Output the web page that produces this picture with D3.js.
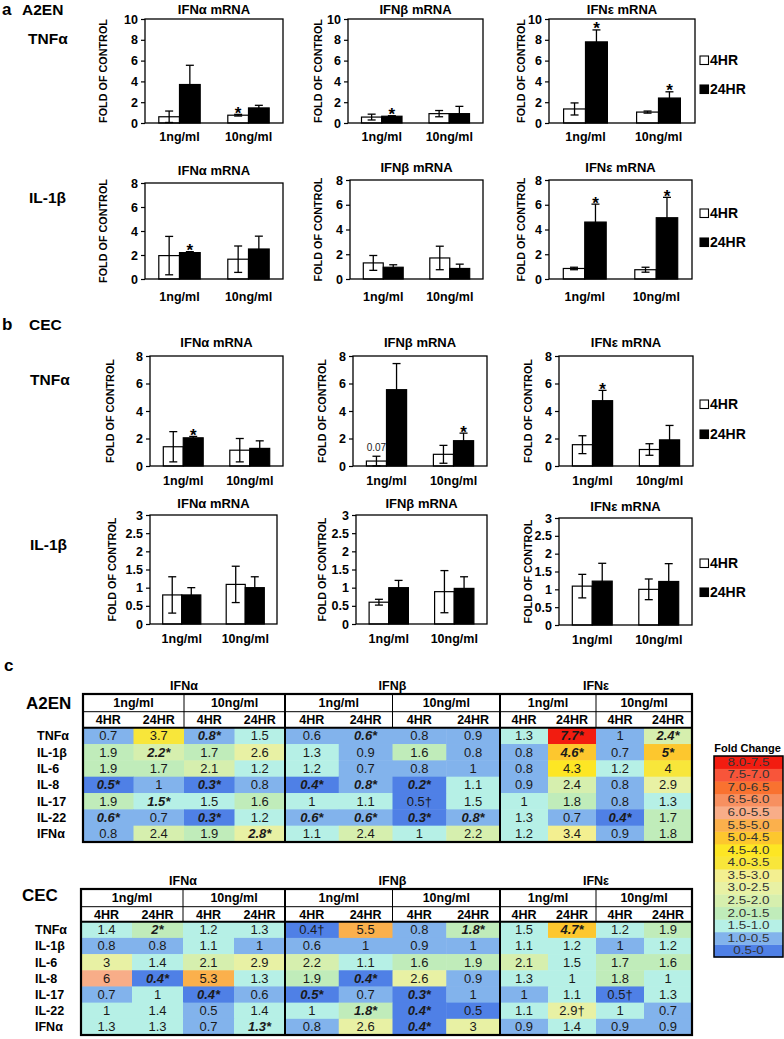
<!DOCTYPE html>
<html>
<head>
<meta charset="utf-8">
<script src="https://cdn.jsdelivr.net/npm/d3@7"></script>
<style>
  body { margin: 0; background: #fff; }
  svg { display: block; font-family: "Liberation Sans", Arial, sans-serif; }
</style>
</head>
<body>
<script>
const width = 784, height = 1039;

const ifns = ["IFNα", "IFNβ", "IFNε"];
const doses = ["1ng/ml", "10ng/ml"];
const times = ["4HR", "24HR"];
const cytokines = ["TNFα", "IL-1β", "IL-6", "IL-8", "IL-17", "IL-22", "IFNα"];

// bar charts: 12 values per row, ordered IFNα/IFNβ/IFNε x 1ng,10ng x 4HR,24HR
const a_tnf_mean = [0.6, 3.7, 0.75, 1.45, 0.57, 0.65, 0.9, 0.9, 1.35, 7.8, 1.05, 2.4];
const a_tnf_err  = [0.55, 1.85, 0.08, 0.25, 0.28, 0.05, 0.3, 0.7, 0.58, 1.15, 0.1, 0.6];
const a_tnf_star = [0, 0, 1, 0, 0, 1, 0, 0, 0, 1, 0, 1];

const a_il1_mean = [1.95, 2.2, 1.65, 2.5, 1.3, 0.95, 1.7, 0.85, 0.85, 4.6, 0.75, 4.95];
const a_il1_err  = [1.6, 0.08, 1.1, 1.07, 0.6, 0.2, 0.95, 0.35, 0.1, 1.45, 0.2, 1.65];
const a_il1_star = [0, 1, 0, 0, 0, 0, 0, 0, 0, 1, 0, 1];

const b_tnf_mean = [1.4, 2.05, 1.15, 1.28, 0.36, 5.55, 0.85, 1.84, 1.55, 4.75, 1.2, 1.9];
const b_tnf_err  = [1.1, 0.1, 0.85, 0.55, 0.35, 1.9, 0.65, 0.55, 0.65, 0.75, 0.42, 1.05];
const b_tnf_star = [0, 1, 0, 0, 0, 0, 0, 1, 0, 1, 0, 0];
const b_tnf_note = ["", "", "", "", "0.07", "", "", "", "", "", "", ""];

const b_il1_mean = [0.8, 0.8, 1.09, 1.0, 0.6, 1.0, 0.89, 0.98, 1.09, 1.23, 1.0, 1.22];
const b_il1_err  = [0.5, 0.2, 0.5, 0.3, 0.08, 0.2, 0.58, 0.32, 0.33, 0.5, 0.29, 0.5];
const b_il1_star = [0, 0, 0, 0, 0, 0, 0, 0, 0, 0, 0, 0];

// heat tables: rows = cytokines, 12 columns in the same order
const a2en_fold = [
  [0.7, 3.7, 0.8, 1.5, 0.6, 0.6, 0.8, 0.9, 1.3, 7.7, 1, 2.4],
  [1.9, 2.2, 1.7, 2.6, 1.3, 0.9, 1.6, 0.8, 0.8, 4.6, 0.7, 5],
  [1.9, 1.7, 2.1, 1.2, 1.2, 0.7, 0.8, 1, 0.8, 4.3, 1.2, 4],
  [0.5, 1, 0.3, 0.8, 0.4, 0.8, 0.2, 1.1, 0.9, 2.4, 0.8, 2.9],
  [1.9, 1.5, 1.5, 1.6, 1.02, 1.1, 0.5, 1.5, 1.02, 1.8, 0.8, 1.3],
  [0.6, 0.7, 0.3, 1.2, 0.6, 0.6, 0.3, 0.8, 1.3, 0.7, 0.4, 1.7],
  [0.8, 2.4, 1.9, 2.8, 1.1, 2.4, 1.02, 2.2, 1.2, 3.4, 0.9, 1.8]
];
const a2en_mark = [
  ["", "", "*", "", "", "*", "", "", "", "*", "", "*"],
  ["", "*", "", "", "", "", "", "", "", "*", "", "*"],
  ["", "", "", "", "", "", "", "", "", "", "", ""],
  ["*", "", "*", "", "*", "*", "*", "", "", "", "", ""],
  ["", "*", "", "", "", "", "†", "", "", "", "", ""],
  ["*", "", "*", "", "*", "*", "*", "*", "", "", "*", ""],
  ["", "", "", "*", "", "", "", "", "", "", "", ""]
];
const cec_fold = [
  [1.4, 2, 1.2, 1.3, 0.4, 5.5, 0.8, 1.8, 1.5, 4.7, 1.2, 1.9],
  [0.8, 0.8, 1.1, 1, 0.6, 1, 0.9, 1, 1.1, 1.2, 1, 1.2],
  [3, 1.4, 2.1, 2.9, 2.2, 1.1, 1.6, 1.9, 2.1, 1.5, 1.7, 1.6],
  [6, 0.4, 5.3, 1.3, 1.9, 0.4, 2.6, 0.9, 1.3, 1.02, 1.8, 1.02],
  [0.7, 1.02, 0.4, 0.6, 0.5, 0.7, 0.3, 1, 1, 1.1, 0.5, 1.3],
  [1.02, 1.4, 0.52, 1.4, 1.02, 1.8, 0.4, 0.5, 1.1, 2.9, 1.02, 0.7],
  [1.3, 1.3, 0.7, 1.3, 0.8, 2.6, 0.4, 3, 0.9, 1.4, 0.9, 0.9]
];
const cec_mark = [
  ["", "*", "", "", "†", "", "", "*", "", "*", "", ""],
  ["", "", "", "", "", "", "", "", "", "", "", ""],
  ["", "", "", "", "", "", "", "", "", "", "", ""],
  ["", "*", "", "", "", "*", "", "", "", "", "", ""],
  ["", "", "*", "", "*", "", "*", "", "", "", "†", ""],
  ["", "", "", "", "", "*", "*", "", "", "†", "", ""],
  ["", "", "", "*", "", "", "*", "", "", "", "", ""]
];

const foldBins = ["0.5-0", "1.0-0.5", "1.5-1.0", "2.0-1.5", "2.5-2.0", "3.0-2.5", "3.5-3.0", "4.0-3.5",
                  "4.5-4.0", "5.0-4.5", "5.5-5.0", "6.0-5.5", "6.5-6.0", "7.0-6.5", "7.5-7.0", "8.0-7.5"];
const foldColors = ["#4f80e6", "#82b3ec", "#b6f0e6", "#c0ecba", "#d6efae", "#e8f1a4", "#f3ef90", "#f8e63a",
                    "#fde624", "#fdc72e", "#fbb04c", "#f8ad88", "#f79060", "#f97230", "#f8553a", "#f21c10"];
const foldEdges = d3.range(0.5, 8, 0.5);

const color = d3.scaleThreshold()
  .domain(foldEdges.map(e => e + 1e-6))   // upper bound of each bin is inclusive
  .range(foldColors);

const svg = d3.select("body").append("svg")
  .attr("width", width).attr("height", height)
  .attr("viewBox", [0, 0, width, height]);

const fmt = d3.format(".1~f");

// widen text horizontally around its anchor point
function stretch(sel, k) {
  sel.each(function () {
    const t = d3.select(this);
    const x = +t.attr("x") || 0, y = +t.attr("y") || 0;
    t.attr("x", 0).attr("y", 0).attr("transform", `translate(${x},${y}) scale(${k},1)`);
  });
}

// ---------- bar charts ----------
function barChart(o) {
  const [x0, x1, y0, y1] = o.box;
  const g = svg.append("g");
  const x = d3.scaleBand().domain(doses).range([x0, x1]).paddingInner(0.4).paddingOuter(0.2);
  const xt = d3.scaleBand().domain(times).range([0, x.bandwidth()]);
  const y = d3.scaleLinear().domain([0, o.max]).range([y1, y0]);

  const rows = [];
  doses.forEach((d, i) => times.forEach((t, j) => {
    const k = o.ifn * 4 + i * 2 + j;
    rows.push({ dose: d, time: t, m: o.mean[k], e: o.err[k], s: o.star[k], n: o.note ? o.note[k] : "" });
  }));

  g.append("text").attr("x", (x0 + x1) / 2).attr("y", y0 - o.titleDy)
    .attr("text-anchor", "middle").attr("font-size", 13).attr("font-weight", "bold")
    .text(ifns[o.ifn] + " mRNA");

  const ya = d3.axisLeft(y)
    .tickValues(d3.range(0, o.max + o.step / 2, o.step))
    .tickFormat(d3.format("~g")).tickSize(4).tickPadding(3);
  const ag = g.append("g").attr("transform", `translate(${x0},0)`).call(ya);
  ag.select(".domain").remove();
  ag.selectAll("line").attr("stroke-width", 1.2);
  ag.selectAll("text").attr("font-size", 12.5).attr("font-weight", "bold")
    .attr("font-family", "Liberation Sans, Arial, sans-serif").attr("fill", "#000");

  g.append("text")
    .attr("transform", `translate(${o.ylabX},${(y0 + y1) / 2}) rotate(-90)`)
    .attr("text-anchor", "middle").attr("dy", "0.35em")
    .attr("font-size", 10.8).attr("font-weight", "bold")
    .text("FOLD OF CONTROL");

  g.selectAll(".bar").data(rows).join("rect")
    .attr("x", d => x(d.dose) + xt(d.time))
    .attr("y", d => y(d.m))
    .attr("width", xt.bandwidth())
    .attr("height", d => y(0) - y(d.m))
    .attr("fill", d => d.time === "4HR" ? "#fff" : "#000")
    .attr("stroke", "#000").attr("stroke-width", 1.2);

  const cx = d => x(d.dose) + xt(d.time) + xt.bandwidth() / 2;
  const lo = d => y(Math.max(0, d.m - d.e)), hi = d => y(d.m + d.e);
  const eb = g.selectAll(".err").data(rows).join("g").attr("stroke", "#000").attr("stroke-width", 1.3);
  eb.append("line").attr("x1", cx).attr("x2", cx).attr("y1", lo).attr("y2", hi);
  eb.append("line").attr("x1", d => cx(d) - 4).attr("x2", d => cx(d) + 4).attr("y1", hi).attr("y2", hi);
  eb.append("line").attr("x1", d => cx(d) - 4).attr("x2", d => cx(d) + 4).attr("y1", lo).attr("y2", lo);

  g.selectAll(".star").data(rows.filter(d => d.s)).join("text")
    .attr("x", cx).attr("y", d => hi(d) + 4.5)
    .attr("text-anchor", "middle").attr("font-size", 17).attr("font-weight", "bold")
    .text("*");

  g.selectAll(".note").data(rows.filter(d => d.n)).join("text")
    .attr("x", cx).attr("y", d => hi(d) - 5)
    .attr("text-anchor", "middle").attr("font-size", 10).attr("fill", "#222")
    .text(d => d.n);

  g.append("rect").attr("x", x0).attr("y", y0).attr("width", x1 - x0).attr("height", y1 - y0)
    .attr("fill", "none").attr("stroke", "#000").attr("stroke-width", 1.3);

  g.selectAll(".xl").data(doses).join("text")
    .attr("x", d => x(d) + x.bandwidth() / 2).attr("y", y1 + o.xDy)
    .attr("text-anchor", "middle").attr("font-size", 12.5).attr("font-weight", "bold")
    .text(d => d);
}

function legend(lx, ly) {
  const g = svg.append("g");
  times.forEach((t, i) => {
    g.append("rect").attr("x", lx).attr("y", ly[i] - 9).attr("width", 8.5).attr("height", 8.5)
      .attr("fill", i ? "#000" : "#fff").attr("stroke", "#000").attr("stroke-width", 1.1);
    g.append("text").attr("x", lx + 10).attr("y", ly[i]).attr("font-size", 14)
      .attr("font-weight", "bold").text(t);
  });
}

function rowLabel(txt, x, y) {
  svg.append("text").attr("x", x).attr("y", y).attr("font-size", 15.5).attr("font-weight", "bold").text(txt);
}

// panel labels
svg.append("text").attr("x", 2).attr("y", 15).attr("font-size", 17).attr("font-weight", "bold").text("a");
svg.append("text").attr("x", 22).attr("y", 15).attr("font-size", 15.5).attr("font-weight", "bold").text("A2EN");
svg.append("text").attr("x", 2).attr("y", 330).attr("font-size", 17).attr("font-weight", "bold").text("b");
svg.append("text").attr("x", 29).attr("y", 330).attr("font-size", 15.5).attr("font-weight", "bold").text("CEC");
svg.append("text").attr("x", 4).attr("y", 671).attr("font-size", 17).attr("font-weight", "bold").text("c");

// panel a, TNFα
rowLabel("TNFα", 28, 44);
[[145, 283, 19, 123, 103], [348, 483, 19, 123, 318], [549, 695, 19, 123, 521]].forEach((b, i) =>
  barChart({ box: b.slice(0, 4), ylabX: b[4], max: 10, step: 2, ifn: i, mean: a_tnf_mean, err: a_tnf_err,
             star: a_tnf_star, titleDy: 5, xDy: 18 }));
legend(700, [65, 94]);

// panel a, IL-1β
rowLabel("IL-1β", 29, 203);
[[145, 283, 183, 279, 103], [350, 483, 180, 279, 318], [549, 692, 180, 279, 521]].forEach((b, i) =>
  barChart({ box: b.slice(0, 4), ylabX: b[4], max: 8, step: 2, ifn: i, mean: a_il1_mean, err: a_il1_err,
             star: a_il1_star, titleDy: 8, xDy: 22 }));
legend(700, [218, 247]);

// panel b, TNFα
rowLabel("TNFα", 30, 385);
[[150, 283, 356, 466, 110], [353, 487, 356, 466, 322], [559, 693, 356, 466, 528]].forEach((b, i) =>
  barChart({ box: b.slice(0, 4), ylabX: b[4], max: 8, step: 2, ifn: i, mean: b_tnf_mean, err: b_tnf_err,
             star: b_tnf_star, note: b_tnf_note, titleDy: 9, xDy: 19 }));
legend(700, [409, 439]);

// panel b, IL-1β
rowLabel("IL-1β", 30, 550);
[[150, 277, 515, 624, 112], [356, 487, 515, 624, 322], [559, 692, 518, 625, 528]].forEach((b, i) =>
  barChart({ box: b.slice(0, 4), ylabX: b[4], max: 3, step: 0.5, ifn: i, mean: b_il1_mean, err: b_il1_err,
             star: b_il1_star, titleDy: 7, xDy: 19 }));
legend(700, [568, 597]);

// ---------- heat tables ----------
function heatTable(o) {
  const g = svg.append("g");
  const edges = [o.left, 285, 500, 692];
  const right = edges[3];
  const hTop = o.top, h1 = hTop + o.h1, h2 = h1 + o.h2;
  const y = d3.scaleBand().domain(cytokines).range([h2, o.bottom]);
  const cols = [];
  ifns.forEach((f, gi) => {
    const xc = d3.scaleBand().domain(d3.range(4)).range([edges[gi], edges[gi + 1]]);
    d3.range(4).forEach(c => cols.push({ gi, k: gi * 4 + c, x: xc(c), w: xc.bandwidth(), dose: doses[c >> 1], time: times[c & 1] }));
  });

  const cells = [];
  cytokines.forEach((cy, r) => cols.forEach(c =>
    cells.push({ cy, v: o.fold[r][c.k], m: o.mark[r][c.k], x: c.x, w: c.w })));

  g.selectAll(".cell").data(cells).join("rect")
    .attr("x", d => d.x).attr("y", d => y(d.cy))
    .attr("width", d => d.w + 0.5).attr("height", y.bandwidth() + 0.5)
    .attr("fill", d => color(d.v));

  g.selectAll(".val").data(cells).join("text")
    .attr("x", d => d.x + d.w / 2).attr("y", d => y(d.cy) + y.bandwidth() / 2 + 4.5)
    .attr("text-anchor", "middle").attr("font-size", 13).attr("fill", "#1a1a1a")
    .attr("font-weight", d => d.m === "*" ? "bold" : "normal")
    .attr("font-style", d => d.m === "*" ? "italic" : "normal")
    .text(d => fmt(d.v) + d.m);

  // headers
  g.selectAll(".grp").data(ifns).join("text")
    .attr("x", (d, i) => (edges[i] + edges[i + 1]) / 2).attr("y", hTop - 4)
    .attr("text-anchor", "middle").attr("font-size", 12.5).attr("font-weight", "bold").text(d => d);
  const doseCols = cols.filter(c => c.time === "4HR");
  g.selectAll(".dose").data(doseCols).join("text")
    .attr("x", d => d.x + d.w).attr("y", hTop + o.h1 / 2 + 4.5)
    .attr("text-anchor", "middle").attr("font-size", 12.5).attr("font-weight", "bold").text(d => d.dose);
  g.selectAll(".time").data(cols).join("text")
    .attr("x", d => d.x + d.w / 2).attr("y", h1 + o.h2 / 2 + 4.5)
    .attr("text-anchor", "middle").attr("font-size", 12.5).attr("font-weight", "bold").text(d => d.time);

  // row labels
  g.selectAll(".rl").data(cytokines).join("text")
    .attr("x", o.left - 46).attr("y", d => y(d) + y.bandwidth() / 2 + 4.5)
    .attr("font-size", 12.5).attr("font-weight", "bold").text(d => d);

  g.append("text").attr("x", o.labelX).attr("y", o.labelY)
    .attr("font-size", 17).attr("font-weight", "bold").text(o.name);

  // grid lines
  const ln = (xa, ya, xb, yb, w) => g.append("line").attr("x1", xa).attr("y1", ya).attr("x2", xb).attr("y2", yb)
    .attr("stroke", "#000").attr("stroke-width", w);
  ln(o.left, h1, right, h1, 1);
  ln(o.left, h2, right, h2, 2);
  doseCols.filter(c => c.k % 4 === 2).forEach(c => ln(c.x, hTop, c.x, h2, 1));
  edges.slice(1, 3).forEach(e => ln(e, hTop, e, o.bottom, 2));
  g.append("rect").attr("x", o.left).attr("y", hTop).attr("width", right - o.left).attr("height", o.bottom - hTop)
    .attr("fill", "none").attr("stroke", "#000").attr("stroke-width", 2.2);
}

heatTable({ name: "A2EN", labelX: 26, labelY: 709, left: 83, top: 694, h1: 17.7, h2: 16, bottom: 842,
            fold: a2en_fold, mark: a2en_mark });
heatTable({ name: "CEC", labelX: 22, labelY: 901, left: 81, top: 889, h1: 17.7, h2: 15, bottom: 1035,
            fold: cec_fold, mark: cec_mark });

// ---------- fold change legend ----------
{
  const g = svg.append("g");
  const lx0 = 714, lx1 = 783;
  const ly = d3.scaleBand().domain(foldBins.slice().reverse()).range([756, 957]);
  g.append("text").attr("x", (lx0 + lx1) / 2 - 1).attr("y", 752).attr("text-anchor", "middle")
    .attr("font-size", 11).attr("font-weight", "bold").text("Fold Change");
  g.selectAll("rect.bin").data(foldBins).join("rect")
    .attr("x", lx0).attr("y", d => ly(d)).attr("width", lx1 - lx0).attr("height", ly.bandwidth() + 0.4)
    .attr("fill", (d, i) => foldColors[i]);
  const lt = g.selectAll("text.bin").data(foldBins).join("text")
    .attr("x", (lx0 + lx1) / 2).attr("y", d => ly(d) + ly.bandwidth() / 2 + 3.5)
    .attr("text-anchor", "middle").attr("font-size", 10).attr("fill", "#333").text(d => d);
  stretch(lt, 1.35);
  g.append("rect").attr("x", lx0).attr("y", 756).attr("width", lx1 - lx0).attr("height", 957 - 756)
    .attr("fill", "none").attr("stroke", "#000").attr("stroke-width", 1.5);
}
</script>
</body>
</html>
